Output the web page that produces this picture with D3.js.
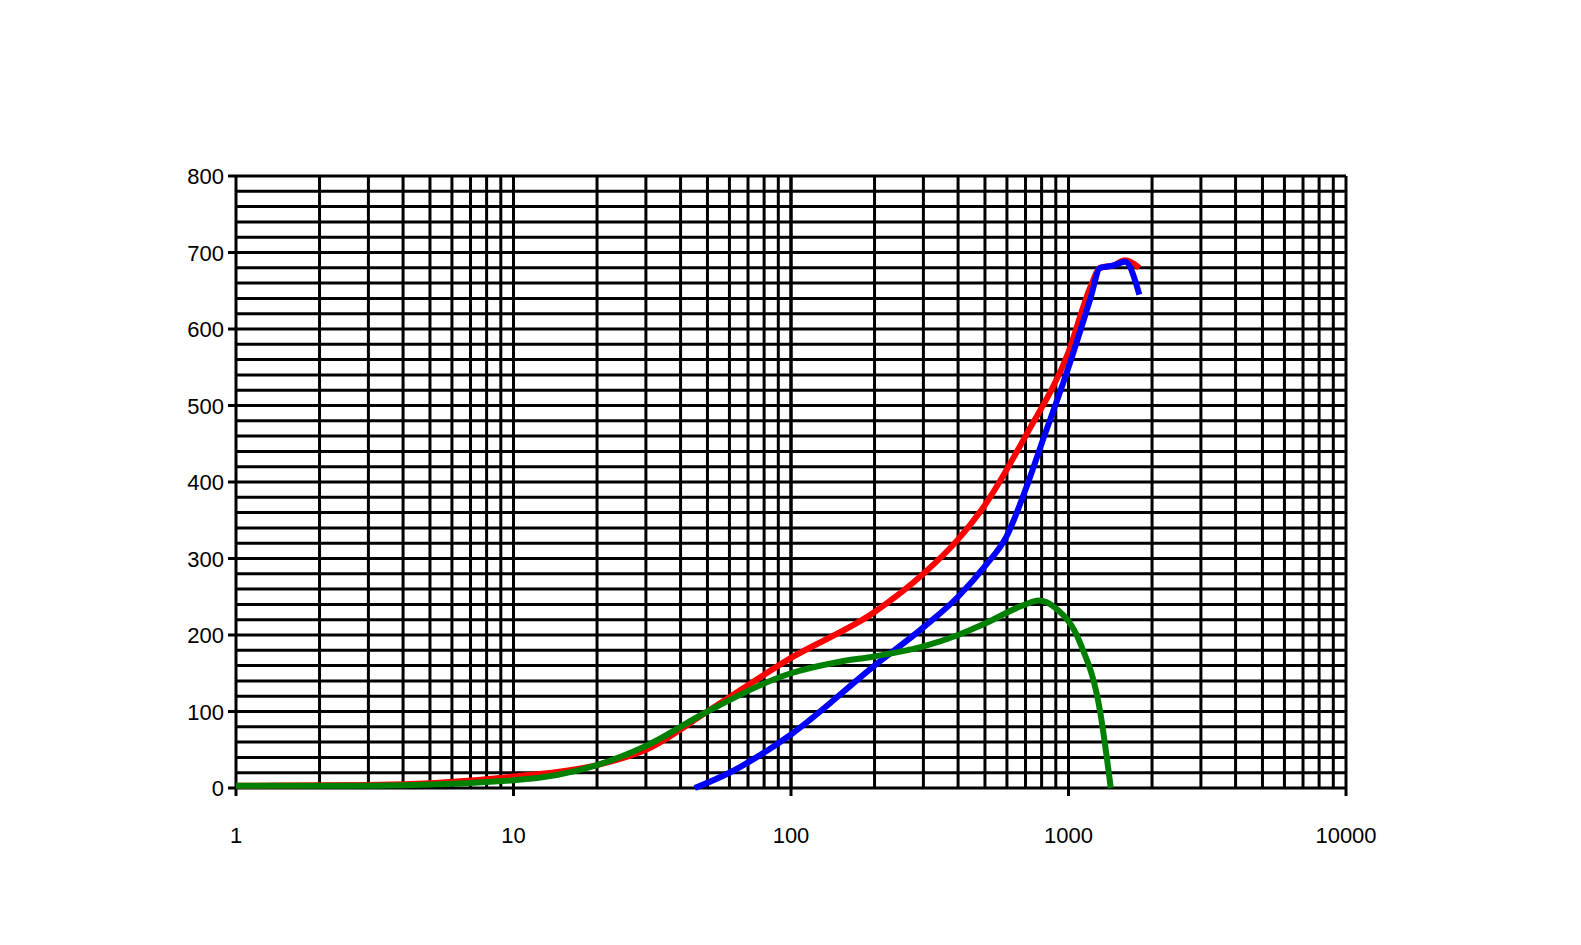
<!DOCTYPE html>
<html><head><meta charset="utf-8">
<script src="https://cdn.jsdelivr.net/npm/d3@7"></script>
<style>body{margin:0;background:#fff}</style>
</head><body><div id="chart"></div>
<script>
var redX = [1, 3, 10, 20, 30, 50, 100, 200, 300, 400, 500, 700, 1000, 1200, 1300, 1450, 1600, 1800];
var redY = [3, 4, 15, 30, 50, 100, 170, 230, 280, 325, 370, 460, 570, 655, 680, 683, 690, 680];
var blueX = [45, 60, 100, 200, 300, 400, 500, 600, 700, 800, 1000, 1200, 1300, 1450, 1600, 1800];
var blueY = [0, 20, 70, 160, 210, 250, 290, 330, 390, 450, 550, 640, 680, 683, 688, 645];
var greenX = [1, 3, 10, 20, 30, 50, 100, 150, 200, 300, 400, 500, 700, 780, 900, 1100, 1300, 1420];
var greenY = [3, 3, 10, 30, 55, 100, 150, 165, 172, 185, 200, 215, 240, 245, 235, 190, 100, 0];
var yTicks = [0, 100, 200, 300, 400, 500, 600, 700, 800];
var xTicks = [1, 10, 100, 1000, 10000];

var svg = d3.select("#chart").append("svg").attr("width", 1581).attr("height", 945);
var x = d3.scaleLog().domain([1, 10000]).range([236, 1346]);
var y = d3.scaleLinear().domain([0, 800]).range([788, 176]);

var grid = svg.append("g").attr("stroke", "#000").attr("stroke-width", 3);
d3.range(0, 801, 20).forEach(function(v) {
  grid.append("line").attr("x1", x(1)).attr("x2", x(10000)).attr("y1", y(v)).attr("y2", y(v));
});
for (var d = 1; d <= 1000; d *= 10) {
  for (var k = 1; k <= 10; k++) {
    grid.append("line").attr("x1", x(d * k)).attr("x2", x(d * k)).attr("y1", y(0)).attr("y2", y(800));
  }
}
// tick marks
yTicks.forEach(function(v) {
  grid.append("line").attr("x1", x(1) - 8).attr("x2", x(1)).attr("y1", y(v)).attr("y2", y(v));
});
xTicks.forEach(function(v) {
  grid.append("line").attr("x1", x(v)).attr("x2", x(v)).attr("y1", y(0)).attr("y2", y(0) + 8);
});

svg.append("g").selectAll("text").data(yTicks).enter().append("text")
  .attr("x", x(1) - 12).attr("y", d => y(d) + 8).attr("text-anchor", "end")
  .style("font", "22px 'Liberation Sans', Arial").text(d => d);
svg.append("g").selectAll("text").data(xTicks).enter().append("text")
  .attr("x", d => x(d)).attr("y", y(0) + 55).attr("text-anchor", "middle")
  .style("font", "22px 'Liberation Sans', Arial").text(d => d);

var line = d3.line().curve(d3.curveMonotoneX);
function draw(xs, ys, color) {
  svg.append("path").attr("fill", "none").attr("stroke", color).attr("stroke-width", 6)
    .attr("d", line(xs.map((v, i) => [x(v), y(ys[i])])));
}
draw(redX, redY, "#ff0000");
draw(blueX, blueY, "#0000ff");
draw(greenX, greenY, "#008000");
</script></body></html>
